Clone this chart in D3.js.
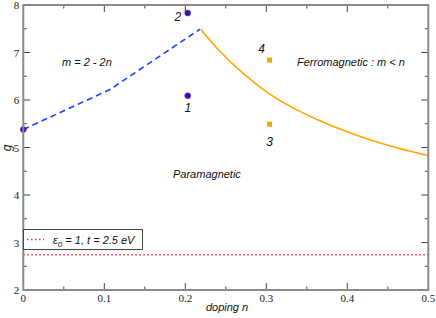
<!DOCTYPE html>
<html><head><meta charset="utf-8">
<script src="https://cdn.jsdelivr.net/npm/d3@7"></script>
<style>body{margin:0;background:#fff;} svg{display:block;}</style>
</head><body>
<svg id="c" width="436" height="318"></svg>
<script>
// data
const dashedN = [0, 0.107, 0.218];
const dashedG = [5.38, 6.22, 7.49];
const ferroN = [0.219, 0.243, 0.27, 0.302, 0.33, 0.364, 0.4, 0.425, 0.46, 0.5];
const ferroG = [7.49, 7.02, 6.58, 6.15, 5.86, 5.58, 5.33, 5.18, 5.00, 4.83];
const bluePtN = [0, 0.203, 0.203];
const bluePtG = [5.38, 7.83, 6.09];
const bluePtLbl = ["", "2", "1"];
const orangePtN = [0.304, 0.304];
const orangePtG = [6.84, 5.49];
const orangePtLbl = ["4", "3"];
const refG = 2.74;
const xTicks = [0, 0.1, 0.2, 0.3, 0.4, 0.5];
const yTicks = [2, 3, 4, 5, 6, 7, 8];

const svg = d3.select("#c");
const L = 23.3, R = 428.3, T = 5, B = 290;
const x = d3.scaleLinear().domain([0, 0.5]).range([L, R]);
const y = d3.scaleLinear().domain([2, 8]).range([B, T]);
const frame = "#8a8a8a", tickC = "#444";

// minor + major ticks
const xMinor = d3.range(0.05, 0.5, 0.1);
const yMinor = d3.range(2.5, 8, 1);
const tg = svg.append("g").attr("stroke", tickC).attr("stroke-width", 1);
xTicks.slice(1, -1).forEach(t => {
  tg.append("line").attr("x1", x(t)).attr("x2", x(t)).attr("y1", B).attr("y2", B - 7);
  tg.append("line").attr("x1", x(t)).attr("x2", x(t)).attr("y1", T).attr("y2", T + 7);
});
xMinor.forEach(t => {
  tg.append("line").attr("x1", x(t)).attr("x2", x(t)).attr("y1", B).attr("y2", B - 3.5);
  tg.append("line").attr("x1", x(t)).attr("x2", x(t)).attr("y1", T).attr("y2", T + 3.5);
});
yTicks.slice(1, -1).forEach(t => {
  tg.append("line").attr("x1", L).attr("x2", L + 7).attr("y1", y(t)).attr("y2", y(t));
  tg.append("line").attr("x1", R).attr("x2", R - 7).attr("y1", y(t)).attr("y2", y(t));
});
yMinor.forEach(t => {
  tg.append("line").attr("x1", L).attr("x2", L + 3.5).attr("y1", y(t)).attr("y2", y(t));
  tg.append("line").attr("x1", R).attr("x2", R - 3.5).attr("y1", y(t)).attr("y2", y(t));
});

// red dotted reference line
svg.append("line").attr("x1", x(0)).attr("x2", x(0.5)).attr("y1", y(refG)).attr("y2", y(refG))
  .attr("stroke", "#ff2a2a").attr("stroke-width", 1.5).attr("stroke-dasharray", "1.5,2.5");

// dashed blue line
const line = d3.line().x(d => x(d[0])).y(d => y(d[1]));
svg.append("path").datum(d3.zip(dashedN, dashedG)).attr("d", line)
  .attr("fill", "none").attr("stroke", "#1f3dff").attr("stroke-width", 1.6).attr("stroke-dasharray", "6,4");

// orange curve
svg.append("path").datum(d3.zip(ferroN, ferroG)).attr("d", d3.line().x(d => x(d[0])).y(d => y(d[1])).curve(d3.curveMonotoneX))
  .attr("fill", "none").attr("stroke", "#ffa500").attr("stroke-width", 1.6);

// blue points
svg.selectAll(".bp").data(d3.zip(bluePtN, bluePtG)).enter().append("circle")
  .attr("cx", d => x(d[0])).attr("cy", d => y(d[1])).attr("r", 3)
  .attr("fill", "#1c1cc0").attr("stroke", "#b02070").attr("stroke-width", 0.6);
// orange squares
svg.selectAll(".op").data(d3.zip(orangePtN, orangePtG)).enter().append("rect")
  .attr("x", d => x(d[0]) - 2.5).attr("y", d => y(d[1]) - 2.5).attr("width", 5).attr("height", 5)
  .attr("fill", "#ffa500");

const itl = (t, px, py, anchor, size) => svg.append("text").attr("x", px).attr("y", py)
  .attr("font-family", "Liberation Sans, Arial, sans-serif").attr("font-style", "italic")
  .attr("font-size", size || 11).attr("text-anchor", anchor || "start").attr("fill", "#111").text(t);

// point labels
itl(bluePtLbl[1], x(bluePtN[1]) - 10, y(bluePtG[1]) + 8, "middle", 12);
itl(bluePtLbl[2], x(bluePtN[2]), y(bluePtG[2]) + 16, "middle", 12);
itl(orangePtLbl[0], x(orangePtN[0]) - 8, y(orangePtG[0]) - 7, "middle", 12);
itl(orangePtLbl[1], x(orangePtN[1]), y(orangePtG[1]) + 22, "middle", 12);

// annotations
itl("m = 2 - 2n", 62, 66);
itl("Ferromagnetic : m < n", 297, 66);
itl("Paramagnetic", 173, 178);

// frame
svg.append("rect").attr("x", L).attr("y", T).attr("width", R - L).attr("height", B - T)
  .attr("fill", "none").attr("stroke", frame).attr("stroke-width", 2);

// tick labels
const serif = "Liberation Serif, Times New Roman, serif";
xTicks.forEach(t => svg.append("text").attr("x", x(t)).attr("y", B + 12).attr("text-anchor", "middle")
  .attr("font-family", serif).attr("font-size", 11).attr("fill", "#222").text(t === 0 ? "0" : String(t)));
yTicks.forEach(t => svg.append("text").attr("x", L - 4).attr("y", y(t) + 4).attr("text-anchor", "end")
  .attr("font-family", serif).attr("font-size", 11).attr("fill", "#222").text(t));

// axis titles
itl("doping n", 227, 311, "middle", 11);
svg.append("text").attr("transform", "translate(11,148) rotate(-90)").attr("text-anchor", "middle")
  .attr("font-family", "Liberation Sans, Arial, sans-serif").attr("font-style", "italic")
  .attr("font-size", 12).attr("fill", "#111").text("g");

// legend
const lg = svg.append("g");
lg.append("rect").attr("x", 23.5).attr("y", 229.5).attr("width", 119).attr("height", 20)
  .attr("fill", "#fff").attr("stroke", "#444").attr("stroke-width", 1);
lg.append("line").attr("x1", 27).attr("x2", 44).attr("y1", 239.5).attr("y2", 239.5)
  .attr("stroke", "#ff2a2a").attr("stroke-width", 1.5).attr("stroke-dasharray", "1.5,2.5");
const lt = lg.append("text").attr("x", 53).attr("y", 243.5)
  .attr("font-family", "Liberation Sans, Arial, sans-serif").attr("font-style", "italic")
  .attr("font-size", 11).attr("fill", "#111");
lt.append("tspan").text("ε");
lt.append("tspan").attr("dy", 3).attr("font-size", 8).text("0");
lt.append("tspan").attr("dy", -3).text(" = 1, t = 2.5 eV");
</script>
</body></html>
